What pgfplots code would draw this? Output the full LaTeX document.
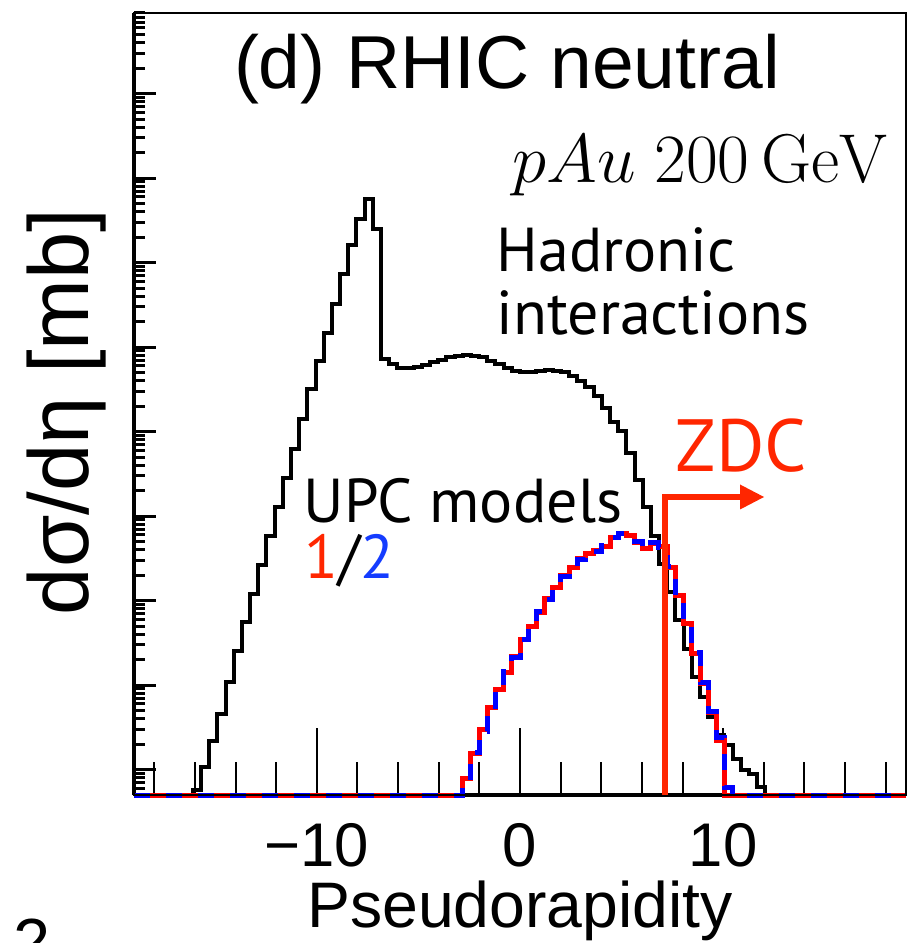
\documentclass[border=0pt]{standalone}
\usepackage[no-math]{fontspec}
\setmainfont{Liberation Sans}
\newfontfamily\ptsans{PT Sans}
\usepackage{pgfplots}
\pgfplotsset{compat=1.18}
\definecolor{zdc}{RGB}{255,38,0}
\definecolor{hred}{RGB}{255,0,0}
\definecolor{hblue}{RGB}{0,0,255}
\definecolor{lblue}{RGB}{20,60,255}
\newcommand\fs[1]{\fontsize{#1pt}{#1pt}\selectfont}
\def\yminor{6e-4,7e-4,8e-4,9e-4}
\foreach \e in {-3,...,5}{\foreach \m in {2,...,9}{\xdef\yminor{\yminor,\m e\e}}}
\begin{document}
\begin{tikzpicture}
\begin{axis}[name=ax, at={(0,0)}, anchor=south west,
  scale only axis, width=231.6pt, height=234.6pt,
  xmin=-19, xmax=19, ymode=log, ymin=5e-4, ymax=9e5,
  axis lines*=left, axis line style={line width=1pt},
  clip=false,
  xtick={-10,0,10}, minor xtick={-18,-16,...,18},
  xticklabels={−10,0,10},
  ytick={1e-3,1e-2,1e-1,1,10,100,1000,1e4,1e5},
  minor ytick/.expanded={\yminor},
  yticklabels={},
  tick align=inside,
  xtick style={line width=0.6pt, black, /pgfplots/major tick length=20pt, /pgfplots/minor tick length=10pt},
  ytick style={line width=0.9pt, black, /pgfplots/major tick length=6.6pt, /pgfplots/minor tick length=3.3pt},
  xticklabel style={font=\fs{18.5}, inner sep=0pt, yshift=-8.4pt},
  xlabel={Pseudorapidity},
  xlabel style={font=\fs{19.3}, at={(axis description cs:0.5,-0.1688)}, anchor=base, inner sep=0pt},
  ylabel={dσ/dη [mb]},
  ylabel style={font=\fs{25.5}, at={(axis description cs:-0.0868,0.49)}, anchor=center, inner sep=0pt},
]
% Hadronic interactions
\addplot[const plot mark left, black, line width=1.2pt] coordinates {
(-19,5e-4) (-16.10,5.69e-4) (-15.70,1.07e-3) (-15.30,2.18e-3) (-14.89,4.59e-3)
(-14.49,1.085e-2) (-14.09,2.52e-2) (-13.69,5.56e-2) (-13.28,0.1203) (-12.88,0.2672)
(-12.48,0.588) (-12.08,1.295) (-11.67,2.828) (-11.27,6.227) (-10.87,14.09)
(-10.47,31.87) (-10.06,68.89) (-9.66,148.8) (-9.26,327.6) (-8.86,729.4)
(-8.45,1606) (-8.05,3258) (-7.65,5617) (-7.25,2482) (-6.84,72.15)
(-6.44,62.97) (-6.04,56.46) (-5.64,56.46) (-5.23,58.49) (-4.83,61.78)
(-4.43,65.77) (-4.03,70.20) (-3.62,75.39) (-3.22,78.96) (-2.82,80.04)
(-2.42,78.96) (-2.01,75.39) (-1.61,68.89) (-1.21,62.97) (-0.81,56.46)
(-0.40,52.47) (0,50.09) (0.40,51.06) (0.81,52.47) (1.21,53.47)
(1.61,51.75) (2.01,50.09) (2.42,45.79) (2.82,39.97) (3.22,33.94)
(3.62,26.57) (4.03,19.16) (4.43,13.09) (4.83,10.25) (5.23,5.63)
(5.64,2.70) (6.04,1.295) (6.44,0.588) (6.84,0.2745) (7.25,0.1257)
(7.65,5.82e-2) (8.05,2.69e-2) (8.45,1.244e-2) (8.86,7.21e-3) (9.26,4.18e-3)
(9.66,2.54e-3) (10.06,1.94e-3) (10.47,1.349e-3) (10.87,9.81e-4) (11.27,8.97e-4)
(11.67,6.23e-4) (12.08,5e-4) (19,5e-4)
};
% UPC model 1
\addplot[const plot mark left, hred, line width=1.5pt] coordinates {
(-19,5e-4) (-2.82,7.83e-4) (-2.42,1.545e-3) (-2.01,2.97e-3) (-1.61,5.50e-3)
(-1.21,8.82e-3) (-0.81,1.425e-2) (-0.40,2.184e-2) (0,3.44e-2) (0.40,4.94e-2)
(0.81,7.29e-2) (1.21,0.1050) (1.61,0.1440) (2.01,0.1980) (2.42,0.2482)
(2.82,0.3120) (3.22,0.3575) (3.62,0.3911) (4.03,0.4419) (4.43,0.5616)
(4.83,0.6211) (5.23,0.5882) (5.64,0.4901) (6.04,0.4095) (6.44,0.4797)
(6.84,0.4361) (7.25,0.2462) (7.65,0.1149) (8.05,5.32e-2) (8.45,2.35e-2)
(8.86,1.039e-2) (9.26,4.80e-3) (9.66,2.22e-3) (10.06,5e-4) (19,5e-4)
};
% UPC model 2
\addplot[const plot mark left, hblue, line width=1.5pt, dash pattern=on 4.8pt off 4.8pt] coordinates {
(-19,5e-4) (-2.82,7.2e-4) (-2.42,1.6e-3) (-2.01,2.8e-3) (-1.61,5.6e-3)
(-1.21,8.5e-3) (-0.81,1.45e-2) (-0.40,2.1e-2) (0,3.5e-2) (0.40,4.8e-2)
(0.81,7.5e-2) (1.21,0.102) (1.61,0.147) (2.01,0.195) (2.42,0.252)
(2.82,0.305) (3.22,0.36) (3.62,0.385) (4.03,0.45) (4.43,0.555)
(4.83,0.63) (5.23,0.58) (5.64,0.50) (6.04,0.40) (6.44,0.49)
(6.84,0.43) (7.25,0.25) (7.65,0.112) (8.05,5.4e-2) (8.45,2.4e-2)
(8.86,1.08e-2) (9.26,4.9e-3) (9.66,2.4e-3) (10.06,6.2e-4) (10.47,5e-4) (19,5e-4)
};
\draw[line width=0.5pt] (rel axis cs:0,0) rectangle (rel axis cs:1,1);
\end{axis}
\begin{scope}[shift={(-40.2pt,238.5pt)}, x=0.3pt, y=-0.3pt]
\node[anchor=base, font=\fs{22.5}, inner sep=0pt] at (507,89) {(d) RHIC neutral};
\node[anchor=base east, font=\fs{20.5}, inner sep=0pt] at (889,183) {$pAu$ $200\,\mathrm{GeV}$};
\node[anchor=base west, font=\ptsans\fs{18.6}, inner sep=0pt] at (496,272) {Hadronic};
\node[anchor=base west, font=\ptsans\fs{18.6}, inner sep=0pt] at (496,335) {interactions};
\node[anchor=base west, font=\ptsans\fs{18.6}, inner sep=0pt] at (303,523) {UPC models};
\node[anchor=base west, font=\ptsans\fs{18.6}, inner sep=0pt] at (304,579) {\textcolor{zdc}{1}/\textcolor{lblue}{2}};
\node[anchor=base west, font=\ptsans\fs{22.2}, inner sep=0pt, text=zdc] at (675,472) {ZDC};
\draw[zdc, line width=1.65pt] (665,795) -- (665,497) -- (742,497);
\fill[zdc] (740,484.5) -- (764,497) -- (740,509.5) -- cycle;
\node[anchor=north west, font=\fs{20}, inner sep=0pt] at (13,918) {2};
\end{scope}
\pgfresetboundingbox
\path (-40.2pt,-44.4pt) rectangle (233.1pt,238.5pt);
\end{tikzpicture}
\end{document}
